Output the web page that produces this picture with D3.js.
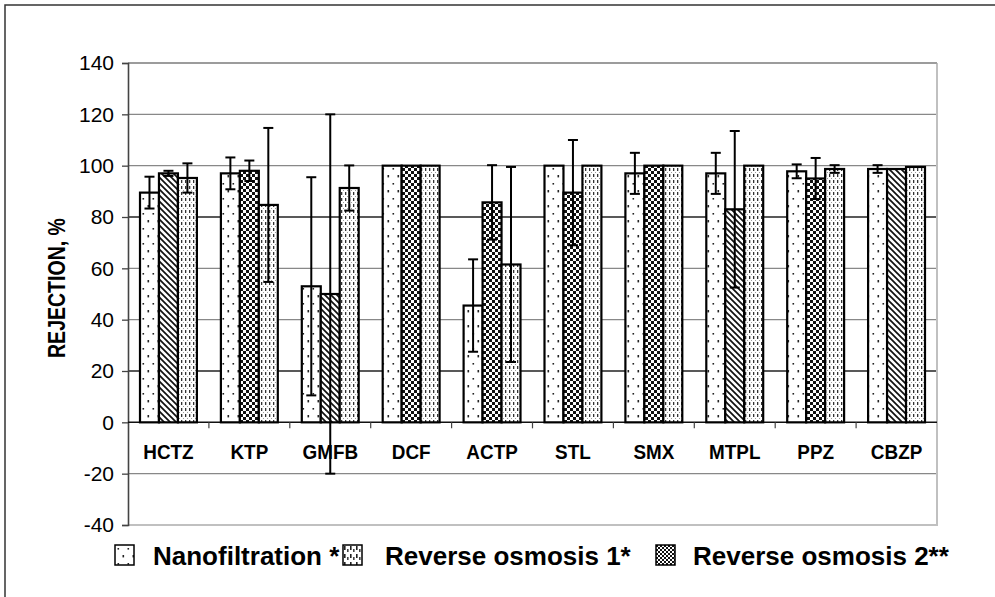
<!DOCTYPE html>
<html><head><meta charset="utf-8">
<script src="https://cdn.jsdelivr.net/npm/d3@7"></script>
<style>body{margin:0;background:#fff}svg{display:block;font-family:"Liberation Sans",Arial,sans-serif}</style>
</head><body><svg id="c" width="995" height="597"></svg>
<script>
const categories = ["HCTZ","KTP","GMFB","DCF","ACTP","STL","SMX","MTPL","PPZ","CBZP"];
const seriesNames = ["Nanofiltration *","Reverse osmosis 1*","Reverse osmosis 2**"];
const nanofiltration     = [89.5, 97, 53, 100, 45.5, 100, 97, 97, 97.8, 98.7];
const nanofiltrationErr  = [6.2, 6.2, 42.5, 0, 18, 0, 8, 8, 2.7, 1.5];
const reverseOsmosis1    = [97, 98, 50, 100, 85.7, 89.5, 100, 83, 95, 98.7];
const reverseOsmosis1Err = [1, 4, 70, 0, 14.5, 20.5, 0, 30.5, 8, 0];
const reverseOsmosis2    = [95.2, 84.7, 91.3, 100, 61.5, 100, 100, 100, 98.7, 99.5];
const reverseOsmosis2Err = [5.7, 30, 8.8, 0, 38, 0, 0, 0, 1.5, 0];
const yTicks = [-40,-20,0,20,40,60,80,100,120,140];

// styles
const seriesTexture = [
  categories.map(()=>"dots"),
  ["diag","checker","diag","checker","checker","checker","checker","diag","checker","diag"],
  categories.map(()=>"vdash")
];
const legendTexture = ["dots","vdashL","checkerL"];

const svg = d3.select("#c");
const defs = svg.append("defs");
function pat(id,w,h,draw){
  const p = defs.append("pattern").attr("id",id).attr("patternUnits","userSpaceOnUse").attr("width",w).attr("height",h);
  p.append("rect").attr("width",w).attr("height",h).attr("fill","#fff");
  draw(p);
}
pat("dots",10,15,p=>{
  p.append("rect").attr("x",2.5).attr("y",3).attr("width",1.6).attr("height",1.6).attr("fill","#222");
  p.append("rect").attr("x",7.5).attr("y",10).attr("width",1.6).attr("height",2.4).attr("fill","#222");
});
pat("checker",6,6,p=>{
  p.append("rect").attr("x",0).attr("y",0).attr("width",3).attr("height",3).attr("fill","#111");
  p.append("rect").attr("x",3).attr("y",3).attr("width",3).attr("height",3).attr("fill","#111");
});
pat("checkerL",4,4,p=>{
  p.append("rect").attr("x",0).attr("y",0).attr("width",2).attr("height",2).attr("fill","#111");
  p.append("rect").attr("x",2).attr("y",2).attr("width",2).attr("height",2).attr("fill","#111");
});
pat("diag",6,6,p=>{
  p.append("path").attr("d","M-1,-1L7,7M-4,2L2,8M2,-4L8,2").attr("stroke","#111").attr("stroke-width",1.7);
});
pat("vdash",4,6,p=>{
  p.append("rect").attr("x",1).attr("y",0).attr("width",1.3).attr("height",3).attr("fill","#333");
  p.append("rect").attr("x",3).attr("y",4).attr("width",0.8).attr("height",0.8).attr("fill","#666");
});
pat("vdashL",6,8,p=>{
  p.append("rect").attr("x",1).attr("y",1).attr("width",1.6).attr("height",4).attr("fill","#222");
  p.append("rect").attr("x",4).attr("y",4).attr("width",1.6).attr("height",3).attr("fill","#444");
});

// outer frame
svg.append("rect").attr("x",5).attr("y",5).attr("width",1100).attr("height",700)
  .attr("fill","none").attr("stroke","#333").attr("stroke-width",1.5);

const x0 = 128, x1 = 937;
const y = d3.scaleLinear().domain([-40,140]).range([525,63]);
const x = d3.scaleBand().domain(categories).range([x0,x1]).padding(0);
const xi = d3.scaleBand().domain([0,1,2]).range([12, x.bandwidth()-12]).padding(0);

// gridlines
const gridDark = {20:true,80:true};
svg.append("g").selectAll("line").data(yTicks.filter(t=>t!==0 && t!==-40)).join("line")
  .attr("x1",x0).attr("x2",x1).attr("y1",d=>y(d)).attr("y2",d=>y(d))
  .attr("stroke",d=>gridDark[d]?"#222":"#888").attr("stroke-width",1.3);
// plot frame right/bottom
svg.append("path").attr("d",`M${x0},${y(-40)}H${x1}V${y(140)}`).attr("fill","none").attr("stroke","#c0c0c0").attr("stroke-width",2);
svg.append("line").attr("x1",x0).attr("x2",x1).attr("y1",y(140)).attr("y2",y(140)).attr("stroke","#999").attr("stroke-width",1.5);

// y axis
const yAxis = d3.axisLeft(y).tickValues(yTicks).tickSize(6).tickPadding(8).tickFormat(d=>String(d));
const ga = svg.append("g").attr("transform",`translate(${x0},0)`).call(yAxis);
ga.select(".domain").attr("stroke","#444").attr("stroke-width",1.6);
ga.selectAll(".tick line").attr("stroke","#444").attr("stroke-width",1.3);
ga.selectAll(".tick text").attr("font-size",21).attr("fill","#000").attr("font-family","Liberation Sans, Arial, sans-serif");

// zero line
svg.append("line").attr("x1",x0).attr("x2",x1).attr("y1",y(0)).attr("y2",y(0)).attr("stroke","#111").attr("stroke-width",1.5);
// category ticks
svg.append("g").selectAll("line").data(categories.slice(1)).join("line")
  .attr("x1",d=>x(d)).attr("x2",d=>x(d)).attr("y1",y(0)).attr("y2",y(0)+6).attr("stroke","#444").attr("stroke-width",1.2);

// bars
const series = [
  {v:nanofiltration,e:nanofiltrationErr},
  {v:reverseOsmosis1,e:reverseOsmosis1Err},
  {v:reverseOsmosis2,e:reverseOsmosis2Err}
];
const barData = [];
series.forEach((s,si)=>categories.forEach((c,ci)=>barData.push({c,si,ci,v:s.v[ci],e:s.e[ci]})));
svg.append("g").selectAll("rect").data(barData).join("rect")
  .attr("x",d=>x(d.c)+xi(d.si)).attr("width",xi.bandwidth())
  .attr("y",d=>y(d.v)).attr("height",d=>y(0)-y(d.v))
  .attr("fill",d=>`url(#${seriesTexture[d.si][d.ci]})`)
  .attr("stroke","#000").attr("stroke-width",2.2);

// error bars
const eb = svg.append("g").selectAll("g").data(barData.filter(d=>d.e>0)).join("g")
  .attr("stroke","#000").attr("stroke-width",2);
const cx = d=>x(d.c)+xi(d.si)+xi.bandwidth()/2;
eb.append("line").attr("x1",cx).attr("x2",cx).attr("y1",d=>y(d.v+d.e)).attr("y2",d=>y(d.v-d.e));
eb.append("line").attr("x1",d=>cx(d)-5).attr("x2",d=>cx(d)+5).attr("y1",d=>y(d.v+d.e)).attr("y2",d=>y(d.v+d.e));
eb.append("line").attr("x1",d=>cx(d)-5).attr("x2",d=>cx(d)+5).attr("y1",d=>y(d.v-d.e)).attr("y2",d=>y(d.v-d.e));

// category labels
svg.append("g").selectAll("text").data(categories).join("text")
  .attr("transform",d=>`translate(${x(d)+x.bandwidth()/2},${y(0)+37}) scale(0.9,1)`)
  .attr("text-anchor","middle").attr("font-size",21).attr("font-weight","bold").text(d=>d);

// y title
svg.append("text").attr("transform",`translate(65,288) rotate(-90)`)
  .attr("text-anchor","middle").attr("font-size",23).attr("font-weight","bold")
  .attr("textLength",140).attr("lengthAdjust","spacingAndGlyphs").text("REJECTION, %");

// legend
const legendX = [115, 343, 656];
const lg = svg.append("g").selectAll("g").data(seriesNames).join("g")
  .attr("transform",(d,i)=>`translate(${legendX[i]},545)`);
lg.append("rect").attr("width",19).attr("height",20).attr("fill",(d,i)=>`url(#${legendTexture[i]})`)
  .attr("stroke","#000").attr("stroke-width",1.5);
lg.append("text").attr("x",(d,i)=>i===0?38:i===1?42:37).attr("y",20).attr("font-size",26).attr("font-weight","bold").text(d=>d);
</script></body></html>
